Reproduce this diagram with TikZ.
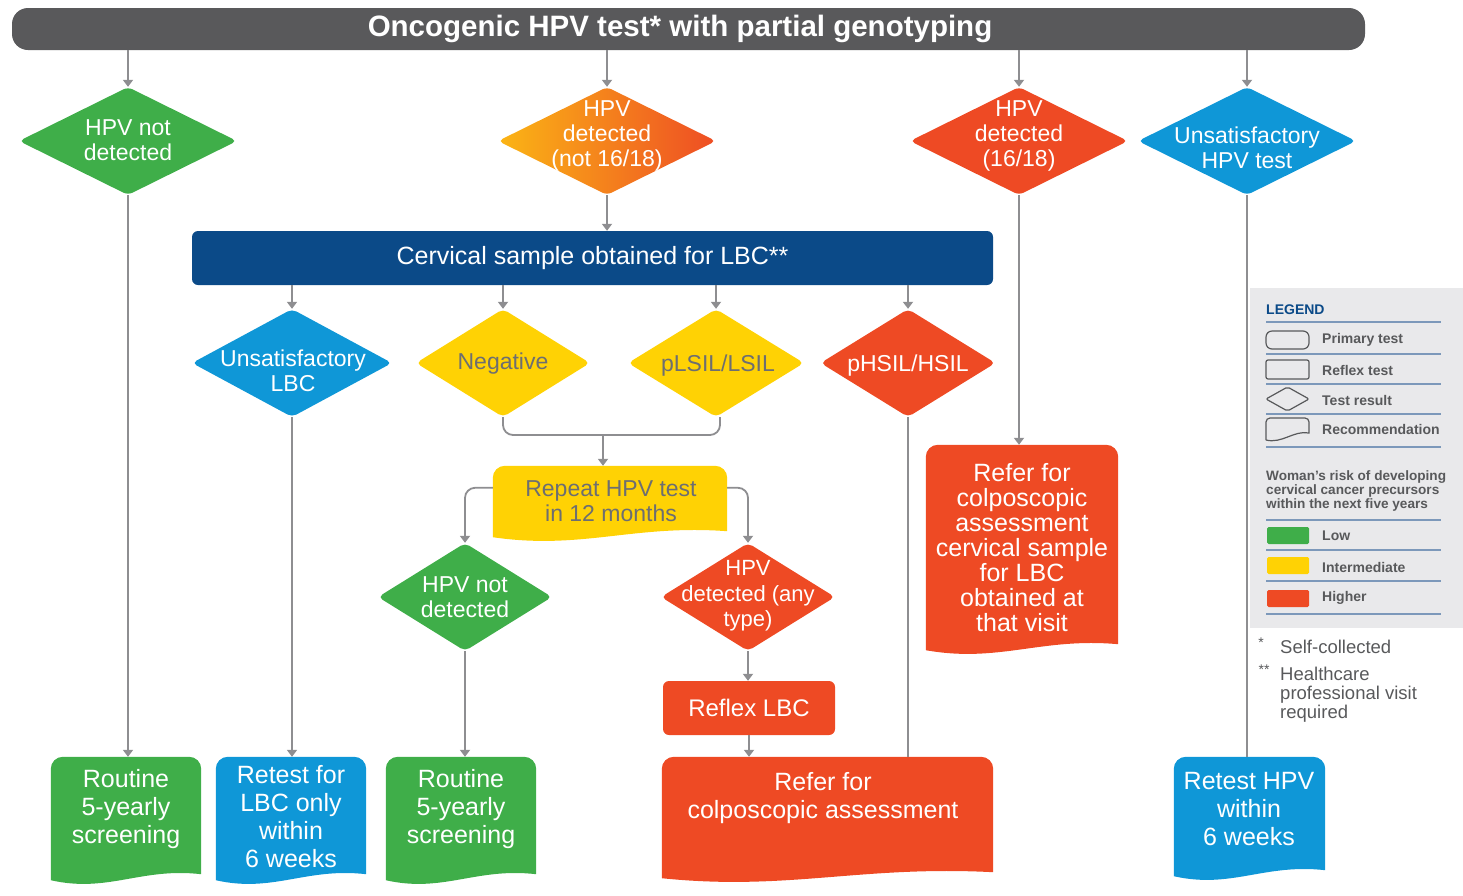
\documentclass[tikz,border=0pt]{standalone}
\usepackage{fontspec}
\setmainfont{Liberation Sans}
\usetikzlibrary{shapes.geometric, arrows.meta, calc}
\pgfdeclarelayer{background}
\pgfsetlayers{background,main}

\definecolor{cgreen}{HTML}{3FAE49}
\definecolor{cyellow}{HTML}{FFD204}
\definecolor{cred}{HTML}{EE4A24}
\definecolor{cblue}{HTML}{0F97D7}
\definecolor{cdblue}{HTML}{0B4A88}
\definecolor{ctitle}{HTML}{59595B}
\definecolor{cline}{HTML}{8E8E91}
\definecolor{ctext}{HTML}{6D6E71}
\definecolor{clegbg}{HTML}{E9E9EB}
\definecolor{clegline}{HTML}{7C98BA}
\definecolor{clegtext}{HTML}{58595B}
\definecolor{corangeA}{HTML}{FBB515}
\definecolor{corangeB}{HTML}{F6921E}
\definecolor{corangeC}{HTML}{EE4D24}

\tikzset{
  conn/.style={draw=cline, line width=1.8pt},
  arr/.style={conn, -{Triangle[width=10pt,length=7pt]}},
  dia/.style={diamond, draw=none, inner sep=0pt, rounded corners=5pt},
  boxnode/.style={inner sep=0pt},
  wtxt/.style={text=white, align=center, inner sep=0pt, font=\fontsize{23}{25}\selectfont},
  gtxt/.style={wtxt, text=ctext},
  btxt/.style={wtxt, font=\fontsize{25}{28}\selectfont},
  legline/.style={draw=clegline, line width=1.2pt},
  icon/.style={draw=clegtext, line width=1.2pt},
  legtxt/.style={anchor=west, inner sep=0pt, text=clegtext, font=\bfseries\fontsize{14}{16}\selectfont},
  fntxt/.style={inner sep=0pt, text=clegtext, font=\fontsize{18.5}{19}\selectfont, align=left}
}

\newcommand\docfill[2]{%
  \begin{pgfonlayer}{background}
  \fill[#1] ([yshift=3pt]#2.south west) [rounded corners=12pt] -- (#2.north west) -- (#2.north east) [sharp corners]
    -- ([yshift=9pt]#2.south east)
    .. controls ([yshift=16pt]$(#2.south west)!0.6!(#2.south east)$) and ([yshift=-10pt]$(#2.south west)!0.38!(#2.south east)$)
    .. ([yshift=3pt]#2.south west) -- cycle;
  \end{pgfonlayer}}

\begin{document}
\begin{tikzpicture}[x=1pt,y=-1pt]
\useasboundingbox (0,0) rectangle (1463,895);

% ---------- title ----------
\node[fill=ctitle, rounded corners=16pt, minimum width=1353pt, minimum height=42pt, inner sep=0pt] (title) at (688.5,29) {};
\node[text=white, inner sep=0pt, font=\bfseries\fontsize{29.5}{31}\selectfont] (titlet) at (680,29) {Oncogenic HPV test* with partial genotyping};

% ---------- row 1 diamonds ----------
\node[dia, fill=cgreen, minimum width=218pt, minimum height=108pt] (d1) at (128,141) {};
\node[wtxt] (d1t) at (128,140) {HPV not\\detected};
\node[dia, left color=corangeA, middle color=corangeB, right color=corangeC, minimum width=218pt, minimum height=108pt] (d2) at (607,141) {};
\node[wtxt] (d2t) at (607,136) {HPV\\detected\\(not 16/18)};
\node[dia, fill=cred, minimum width=218pt, minimum height=108pt] (d3) at (1019,141) {};
\node[wtxt] (d3t) at (1019,136) {HPV\\detected\\(16/18)};
\node[dia, fill=cblue, minimum width=218pt, minimum height=108pt] (d4) at (1247,141) {};
\node[wtxt] (d4t) at (1247,148) {Unsatisfactory\\HPV test};

% ---------- LBC bar ----------
\node[fill=cdblue, rounded corners=6pt, minimum width=801pt, minimum height=54pt, inner sep=0pt,
      text=white, font=\fontsize{25}{27}\selectfont] (lbc) at (592.5,258) {Cervical sample obtained for LBC**};

% ---------- row 2 diamonds ----------
\node[dia, fill=cblue, minimum width=200pt, minimum height=108pt] (d5) at (292,363) {};
\node[wtxt] (d5t) at (293,371) {Unsatisfactory\\LBC};
\node[dia, fill=cyellow, minimum width=174pt, minimum height=108pt] (d6) at (503,363) {};
\node[gtxt] (d6t) at (503,364) {Negative};
\node[dia, fill=cyellow, minimum width=176pt, minimum height=108pt] (d7) at (716,363) {};
\node[gtxt] (d7t) at (718,366) {pLSIL/LSIL};
\node[dia, fill=cred, minimum width=175pt, minimum height=108pt] (d8) at (908,363) {};
\node[wtxt] (d8t) at (908,366) {pHSIL/HSIL};

% ---------- repeat HPV test ----------
\node[boxnode, minimum width=234pt, minimum height=74pt] (rep) at (610,503) {};
\docfill{cyellow}{rep}
\node[gtxt] (rept) at (611,501) {Repeat HPV test\\in 12 months};

% ---------- row 3 diamonds ----------
\node[dia, fill=cgreen, minimum width=174pt, minimum height=108pt] (d9) at (465,597) {};
\node[wtxt] (d9t) at (465,597) {HPV not\\detected};
\node[dia, fill=cred, minimum width=174pt, minimum height=108pt] (d10) at (748,597) {};
\node[wtxt, font=\fontsize{22}{25.5}\selectfont] (d10t) at (748,596) {HPV\\detected (any\\type)};

% ---------- reflex LBC ----------
\node[fill=cred, rounded corners=6pt, minimum width=172pt, minimum height=54pt, inner sep=0pt,
      text=white, font=\fontsize{24}{26}\selectfont] (reflex) at (749,708) {Reflex LBC};

% ---------- recommendation boxes ----------
\node[boxnode, minimum width=150pt, minimum height=126pt] (b1) at (126,820) {};
\docfill{cgreen}{b1}
\node[btxt] (b1t) at (126,809) {Routine\\5-yearly\\screening};

\node[boxnode, minimum width=150pt, minimum height=126pt] (b2) at (291,820) {};
\docfill{cblue}{b2}
\node[btxt] (b2t) at (291,817) {Retest for\\LBC only\\within\\6 weeks};

\node[boxnode, minimum width=150pt, minimum height=126pt] (b3) at (461,820) {};
\docfill{cgreen}{b3}
\node[btxt] (b3t) at (461,809) {Routine\\5-yearly\\screening};

\node[boxnode, minimum width=331pt, minimum height=124pt] (b4) at (827.5,819) {};
\docfill{cred}{b4}
\node[btxt] (b4t) at (823,798) {Refer for\\colposcopic assessment};

\node[boxnode, minimum width=151pt, minimum height=122pt] (b5) at (1249.5,818) {};
\docfill{cblue}{b5}
\node[btxt] (b5t) at (1249,809) {Retest HPV\\within\\6 weeks};

\node[boxnode, minimum width=192pt, minimum height=208pt] (rb) at (1022,549) {};
\docfill{cred}{rb}
\node[wtxt, font=\fontsize{25}{25}\selectfont] (rbt) at (1022,548) {Refer for\\colposcopic\\assessment\\cervical sample\\for LBC\\obtained at\\that visit};

% ---------- connectors ----------
\draw[arr] (title.south -| d1.north) -- (d1.north);
\draw[arr] (title.south -| d2.north) -- (d2.north);
\draw[arr] (title.south -| d3.north) -- (d3.north);
\draw[arr] (title.south -| d4.north) -- (d4.north);

\draw[arr] (d2.south) -- (d2.south |- lbc.north);
\draw[arr] (lbc.south -| d5.north) -- (d5.north);
\draw[arr] (lbc.south -| d6.north) -- (d6.north);
\draw[arr] (lbc.south -| d7.north) -- (d7.north);
\draw[arr] (lbc.south -| d8.north) -- (d8.north);

\coordinate (br) at (603,435);
\draw[conn, rounded corners=10pt] (d6.south) |- (br) -| ([xshift=4pt]d7.south);
\draw[arr] (br) -- (br |- rep.north);

\draw[arr, rounded corners=10pt] ([yshift=-22pt]rep.north west) -| (d9.north);
\draw[arr, rounded corners=10pt] ([yshift=-22pt]rep.north east) -| (d10.north);

\draw[arr] (d1.south) -- (d1.south |- b1.north);
\draw[arr] (d5.south) -- (d5.south |- b2.north);
\draw[arr] (d9.south) -- (d9.south |- b3.north);
\draw[arr] (d10.south) -- (d10.south |- reflex.north);
\draw[arr] (reflex.south) -- (reflex.south |- b4.north);
\draw[conn] (d8.south) -- (d8.south |- b4.north);
\draw[arr] (d3.south) -- (d3.south |- rb.north);

% ---------- legend ----------
\node[fill=clegbg, inner sep=0pt, minimum width=213pt, minimum height=340pt, anchor=north west] (legend) at (1250,288) {};
\draw[conn] (d4.south) -- (d4.south |- b5.north);

\node[anchor=west, inner sep=0pt, text=cdblue, font=\bfseries\fontsize{14}{16}\selectfont] (legt) at (1266,310) {LEGEND};
\foreach \yy in {322,354,384,414,447,520,550,581,614}
  \draw[legline] (1266,\yy) -- (1441,\yy);

\draw[icon, rounded corners=6pt] (1266,331) rectangle (1309,349);
\draw[icon, rounded corners=2pt] (1266,360) rectangle (1309,379);
\draw[icon, rounded corners=2pt] (1266,399) -- (1287.5,387) -- (1309,399) -- (1287.5,411) -- cycle;
\draw[icon] (1266,440) [rounded corners=4pt] -- (1266,418) -- (1309,418) [sharp corners] -- (1309,433)
   .. controls (1294,430) and (1282,444) .. (1266,440);

\node[legtxt] (l1) at (1322,340) {Primary test};
\node[legtxt] (l2) at (1322,370) {Reflex test};
\node[legtxt] (l3) at (1322,400) {Test result};
\node[legtxt] (l4) at (1322,429) {Recommendation};

\node[anchor=north west, align=left, inner sep=0pt, text=clegtext, font=\bfseries\fontsize{13.6}{14}\selectfont] (risk) at (1266,470)
  {Woman’s risk of developing\\cervical cancer precursors\\within the next five years};

\fill[cgreen, rounded corners=1.5pt] (1267,527) rectangle (1309,544);
\fill[cyellow, rounded corners=1.5pt] (1267,557) rectangle (1309,574);
\fill[cred, rounded corners=1.5pt] (1267,590) rectangle (1309,607);
\node[legtxt] (l5) at (1322,536) {Low};
\node[legtxt] (l6) at (1322,567) {Intermediate};
\node[legtxt] (l7) at (1322,598) {Higher};

% ---------- footnotes ----------
\node[fntxt, font=\fontsize{14}{14}\selectfont] (fn1s) at (1261,643) {*};
\node[fntxt, anchor=west] (fn1) at (1280,647) {Self-collected};
\node[fntxt, font=\fontsize{14}{14}\selectfont] (fn2s) at (1264,670) {**};
\node[fntxt, anchor=north west] (fn2) at (1280,667) {Healthcare\\professional visit\\required};

\end{tikzpicture}
\end{document}
